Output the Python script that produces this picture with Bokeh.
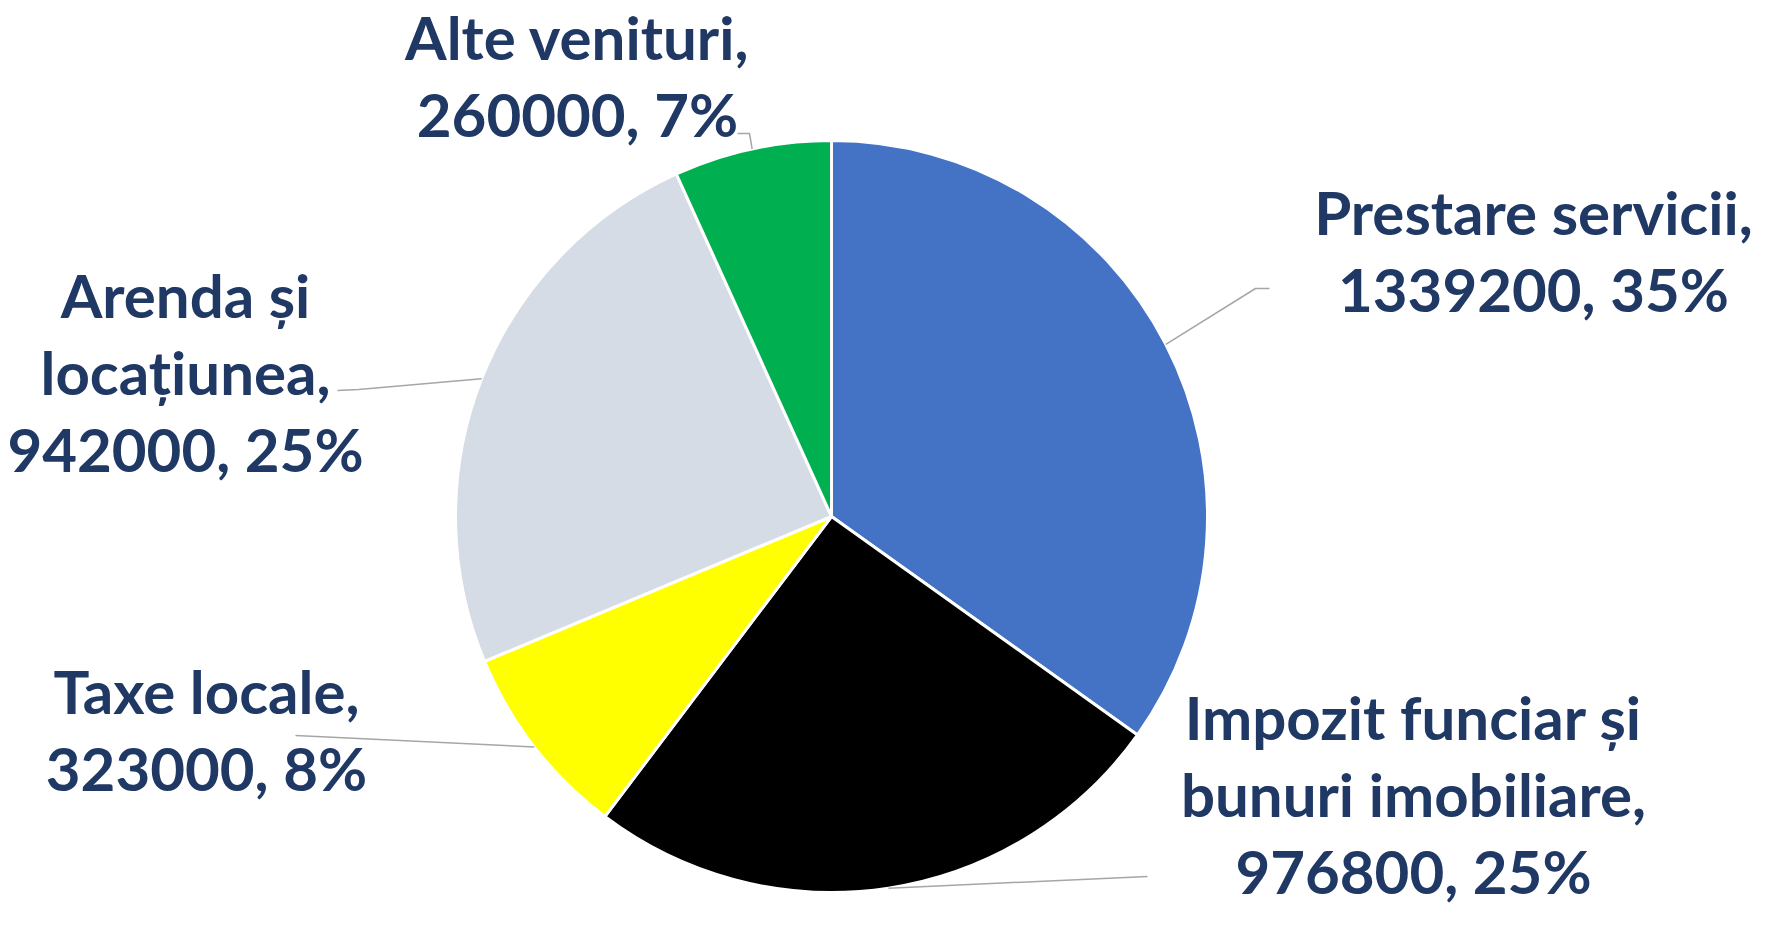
import math
from bokeh.plotting import figure
from bokeh.models import Range1d, ColumnDataSource
from bokeh.core.properties import value
from bokeh.embed import file_html
from bokeh.resources import INLINE

# ---- data ----
categories = ["Prestare servicii", "Impozit funciar și\nbunuri imobiliare", "Taxe locale",
              "Arenda și\nlocațiunea", "Alte venituri"]
values = [1339200, 976800, 323000, 942000, 260000]
colors = ["#4472C4", "#000000", "#FFFF00", "#D6DCE5", "#00B050"]

# ---- layout (page pixel coords) ----
W, H = 1752, 915
CX, CY, R = 831, 516, 376
label_anchor = [(1533, 211), (1413, 716), (206, 690), (185, 294), (577, 36)]  # center x, first line center y
leader_tail = [[(1255, 288), (1269, 288)], [(1147, 876)], [(295, 735)],
               [(358, 389), (337, 390)], [(749, 133), (737, 133)]]
LINE_STEP = 77
FONT = "Lato"
FSIZE = "60px"
BASE_OFF = 0


def dx(x):
    return x


def dy(y):
    return H - y


p = figure(width=W, height=H, output_backend="svg", toolbar_location=None,
           x_axis_type=None, y_axis_type=None, min_border=0)
p.x_range = Range1d(0, W)
p.y_range = Range1d(0, H)
p.outline_line_color = None
p.grid.visible = False

total = sum(values)
cum = 0.0
starts, ends, mids = [], [], []
for v in values:
    f0 = cum / total
    cum += v
    f1 = cum / total
    starts.append(math.pi / 2 - 2 * math.pi * f0)
    ends.append(math.pi / 2 - 2 * math.pi * f1)
    mids.append(math.pi / 2 - 2 * math.pi * (f0 + f1) / 2)

src = ColumnDataSource(dict(x=[dx(CX)] * len(values), y=[dy(CY)] * len(values),
                            s=starts, e=ends, c=colors))
p.wedge(x="x", y="y", radius=R, start_angle="s", end_angle="e", direction="clock",
        fill_color="c", line_color="white", line_width=3, source=src)

# leader lines
xs, ys = [], []
for m, tail in zip(mids, leader_tail):
    px = CX + R * math.cos(m)
    py = CY - R * math.sin(m)
    lx = [dx(px)] + [dx(t[0]) for t in tail]
    ly = [dy(py)] + [dy(t[1]) for t in tail]
    xs.append(lx)
    ys.append(ly)
p.multi_line(xs=xs, ys=ys, line_color="#A6A6A6", line_width=1.5)

# labels
tx, ty, tt = [], [], []
for cat, v, (ax, ay) in zip(categories, values, label_anchor):
    pct = round(100 * v / total)
    lines = cat.split("\n")
    lines[-1] = lines[-1] + ","
    lines.append(f"{v}, {pct}%")
    for i, ln in enumerate(lines):
        tx.append(dx(ax))
        ty.append(dy(ay + BASE_OFF + i * LINE_STEP))
        tt.append(ln)
p.text(x=tx, y=ty, text=tt, text_font=value(FONT), text_font_style="bold",
       text_font_size=FSIZE, text_color="#1F3864", text_align="center",
       text_baseline="alphabetic")

open("out.html", "w").write(file_html(p, INLINE))
